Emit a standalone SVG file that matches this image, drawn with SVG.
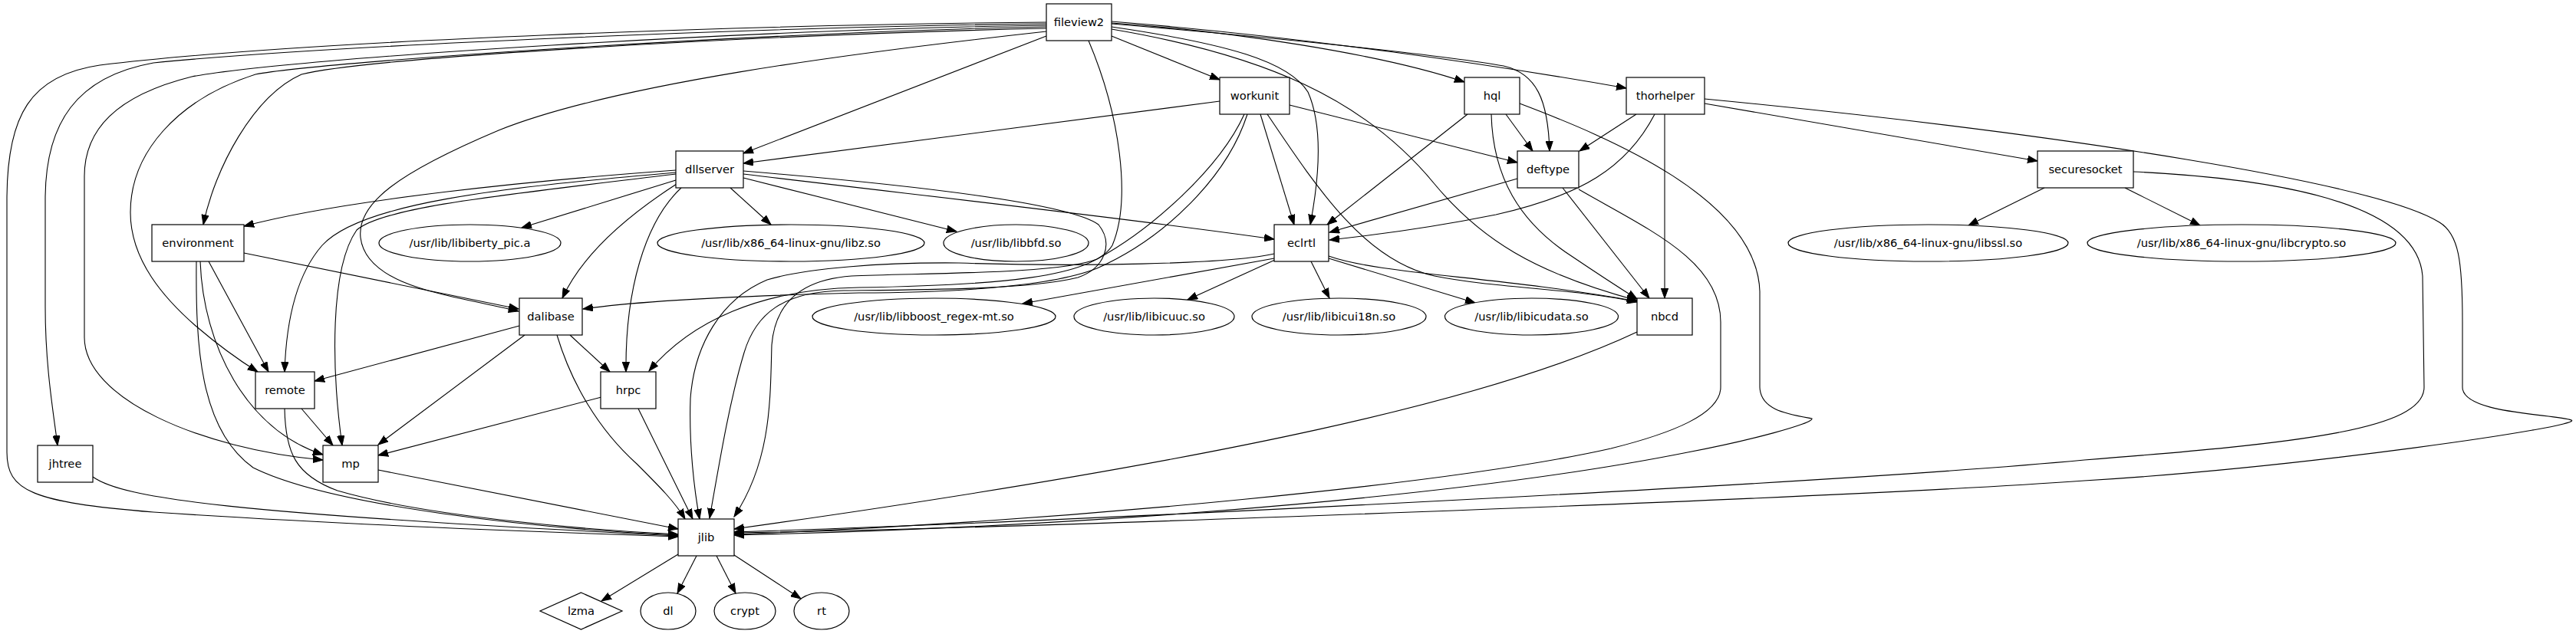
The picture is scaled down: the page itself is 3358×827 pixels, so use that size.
<svg xmlns="http://www.w3.org/2000/svg" width="3358" height="827" viewBox="0 0 3358 827">
<defs>
<style>
.n rect,.n ellipse,.n polygon{fill:#fff;stroke:#000;stroke-width:1.2}
text{font-family:"DejaVu Sans",Verdana,sans-serif;font-size:14.67px;text-anchor:middle;fill:#000}
#edges path{fill:none;stroke:#000;stroke-width:1.1;marker-end:url(#a)}
</style>
<marker id="a" markerUnits="userSpaceOnUse" markerWidth="14" markerHeight="10" refX="13" refY="5" orient="auto" viewBox="0 0 14 10"><path d="M0,0.3 L13,5 L0,9.7 z" fill="#000" stroke="#000" stroke-width="1"/></marker>
</defs>
<rect width="3358" height="827" fill="#fff"/>
<g id="edges">
<path d="M1364,29 C1000,32 400,52 130,85 C40,98 9,150 9,260 L9,590 C9,640 40,655 200,668 C500,688 800,697 884,700"/>
<path d="M1364,31 C1000,35 420,60 200,82 C100,100 59,160 59,260 L59,400 C59,480 70,540 75,581"/>
<path d="M1364,33 C1000,38 380,75 250,100 C150,125 110,170 110,230 L110,440 C110,520 260,585 421,600"/>
<path d="M1364,35 C1000,42 420,80 333,97 C230,130 170,200 170,277 C170,340 215,390 255,425 C290,455 315,472 336,485"/>
<path d="M1364,37 C1000,45 480,75 393,97 C330,125 280,220 265,293"/>
<path d="M1364,41 C1100,70 800,110 650,170 C520,225 465,265 470,310 C478,375 590,385 676,406"/>
<path d="M1364,47 L969,200"/>
<path d="M1449,47 L1590,104"/>
<path d="M1449,30 C1600,40 1800,70 1909,107"/>
<path d="M1449,28 C1700,48 1950,85 2120,115"/>
<path d="M1449,31 C1700,52 1900,75 1960,86 C2003,96 2018,130 2020,197"/>
<path d="M1449,35 C1600,57 1680,80 1705,120 C1725,165 1720,230 1708,293"/>
<path d="M1449,38 C1650,72 1780,130 1870,240 C1930,312 2000,356 2134,392"/>
<path d="M1419,53 C1460,150 1475,260 1450,320 C1425,362 1300,372 1120,375 C990,377 900,420 846,484"/>
<path d="M881,222 C700,235 450,260 318,295"/>
<path d="M881,225 C650,245 470,265 420,320 C385,360 373,420 371,485"/>
<path d="M881,227 C650,255 500,270 465,300 C430,350 432,480 446,581"/>
<path d="M881,235 L680,297"/>
<path d="M882,240 C820,280 760,330 733,389"/>
<path d="M888,245 C840,290 815,380 816,485"/>
<path d="M952,245 L1005,293"/>
<path d="M969,232 L1247,302"/>
<path d="M969,227 C1200,255 1450,282 1661,312"/>
<path d="M969,223 C1150,238 1390,262 1432,293 C1452,318 1440,350 1405,362 C1340,378 1200,378 1100,379 C1020,380 985,410 970,460 C952,520 940,590 925,676"/>
<path d="M318,330 L676,403"/>
<path d="M272,341 L350,485"/>
<path d="M261,341 C265,450 320,560 421,593"/>
<path d="M256,341 C255,450 260,560 330,610 C430,660 700,690 884,698"/>
<path d="M677,425 L410,497"/>
<path d="M684,437 L493,580"/>
<path d="M743,437 L795,485"/>
<path d="M726,437 C745,500 780,560 830,605 C860,635 880,655 893,677"/>
<path d="M393,533 L434,581"/>
<path d="M371,533 C372,590 385,620 440,640 C560,675 780,692 884,697"/>
<path d="M784,518 L493,594"/>
<path d="M832,533 C850,570 880,630 903,677"/>
<path d="M493,613 L884,690"/>
<path d="M121,622 C160,650 300,670 884,699"/>
<path d="M884,723 L784,784"/>
<path d="M908,725 L883,774"/>
<path d="M934,725 L959,774"/>
<path d="M957,724 L1044,781"/>
<path d="M2134,433 C1950,520 1600,600 957,690"/>
<path d="M1590,132 L969,213"/>
<path d="M1681,137 L1978,212"/>
<path d="M1643,149 L1687,293"/>
<path d="M1652,149 C1720,250 1780,340 1870,360 C1950,376 2050,376 2134,394"/>
<path d="M1622,149 C1590,220 1500,300 1430,338 C1380,358 1200,356 1110,360 C1040,365 1010,400 1006,450 C1004,520 1006,600 957,674"/>
<path d="M1626,149 C1600,230 1520,310 1430,350 C1360,378 1200,382 1120,382 C1000,385 850,390 760,403"/>
<path d="M1963,149 L1998,197"/>
<path d="M1913,149 L1730,293"/>
<path d="M1944,149 C1946,230 1980,290 2050,335 C2090,362 2115,378 2134,390"/>
<path d="M1981,135 C2100,180 2290,260 2294,380 L2294,505 C2295,535 2330,540 2362,546 C2365,552 2280,575 2200,590 C1950,640 1500,685 957,698"/>
<path d="M1978,233 L1733,303"/>
<path d="M2037,245 L2150,389"/>
<path d="M2058,247 C2150,300 2243,340 2243,420 L2243,505 C2243,540 2180,565 2100,585 C1900,630 1400,680 957,697"/>
<path d="M2133,149 L2059,197"/>
<path d="M2157,149 C2120,220 2060,255 1950,280 C1850,300 1780,308 1733,313"/>
<path d="M2170,149 L2170,389"/>
<path d="M2222,135 L2656,210"/>
<path d="M2222,129 C2700,175 3100,240 3180,290 C3205,305 3210,340 3210,420 L3210,505 C3210,540 3330,540 3352,548 C3370,556 3000,610 2717,627 C2400,650 1300,690 957,695"/>
<path d="M2665,245 L2566,294"/>
<path d="M2770,245 L2868,294"/>
<path d="M2781,224 C2950,232 3150,260 3158,360 L3160,505 C3160,560 3000,578 2717,600 C2400,630 1400,680 957,694"/>
<path d="M1661,337 L1333,396"/>
<path d="M1662,339 L1548,391"/>
<path d="M1709,341 L1733,389"/>
<path d="M1732,337 L1923,395"/>
<path d="M1732,334 C1800,358 1950,360 2134,393"/>
<path d="M1661,331 C1600,345 1400,348 1250,343 C1150,342 1050,350 1000,365 C940,390 905,450 900,520 C898,580 905,640 912,677"/>
</g>
<g id="fileview2" class="n"><rect x="1364" y="5" width="85" height="48"/><text x="1406.5" y="34">fileview2</text></g>
<g id="workunit" class="n"><rect x="1590" y="101" width="91" height="48"/><text x="1635.5" y="130">workunit</text></g>
<g id="hql" class="n"><rect x="1909" y="101" width="72" height="48"/><text x="1945" y="130">hql</text></g>
<g id="thorhelper" class="n"><rect x="2120" y="101" width="102" height="48"/><text x="2171" y="130">thorhelper</text></g>
<g id="dllserver" class="n"><rect x="881" y="197" width="88" height="48"/><text x="925" y="226">dllserver</text></g>
<g id="deftype" class="n"><rect x="1978" y="197" width="80" height="48"/><text x="2018" y="226">deftype</text></g>
<g id="securesocket" class="n"><rect x="2656" y="197" width="125" height="48"/><text x="2718.5" y="226">securesocket</text></g>
<g id="environment" class="n"><rect x="198" y="293" width="120" height="48"/><text x="258" y="322">environment</text></g>
<g id="libiberty" class="n"><ellipse cx="612.5" cy="317" rx="118.5" ry="24"/><text x="612.5" y="322">/usr/lib/libiberty_pic.a</text></g>
<g id="libz" class="n"><ellipse cx="1031" cy="317" rx="174" ry="24"/><text x="1031" y="322">/usr/lib/x86_64-linux-gnu/libz.so</text></g>
<g id="libbfd" class="n"><ellipse cx="1324.5" cy="317" rx="94.5" ry="24"/><text x="1324.5" y="322">/usr/lib/libbfd.so</text></g>
<g id="eclrtl" class="n"><rect x="1661" y="293" width="71" height="48"/><text x="1696.5" y="322">eclrtl</text></g>
<g id="libssl" class="n"><ellipse cx="2513.5" cy="317" rx="182.5" ry="24"/><text x="2513.5" y="322">/usr/lib/x86_64-linux-gnu/libssl.so</text></g>
<g id="libcrypto" class="n"><ellipse cx="2922" cy="317" rx="201" ry="24"/><text x="2922" y="322">/usr/lib/x86_64-linux-gnu/libcrypto.so</text></g>
<g id="dalibase" class="n"><rect x="677" y="389" width="82" height="48"/><text x="718" y="418">dalibase</text></g>
<g id="libboost" class="n"><ellipse cx="1217.5" cy="413" rx="158.5" ry="24"/><text x="1217.5" y="418">/usr/lib/libboost_regex-mt.so</text></g>
<g id="libicuuc" class="n"><ellipse cx="1504.5" cy="413" rx="104.5" ry="24"/><text x="1504.5" y="418">/usr/lib/libicuuc.so</text></g>
<g id="libicui18n" class="n"><ellipse cx="1745.5" cy="413" rx="113.5" ry="24"/><text x="1745.5" y="418">/usr/lib/libicui18n.so</text></g>
<g id="libicudata" class="n"><ellipse cx="1996.5" cy="413" rx="113" ry="24"/><text x="1996.5" y="418">/usr/lib/libicudata.so</text></g>
<g id="nbcd" class="n"><rect x="2134" y="389" width="72" height="48"/><text x="2170" y="418">nbcd</text></g>
<g id="remote" class="n"><rect x="333" y="485" width="77" height="48"/><text x="371.5" y="514">remote</text></g>
<g id="hrpc" class="n"><rect x="783" y="485" width="72" height="48"/><text x="819" y="514">hrpc</text></g>
<g id="jhtree" class="n"><rect x="49" y="581" width="72" height="48"/><text x="85" y="610">jhtree</text></g>
<g id="mp" class="n"><rect x="421" y="581" width="72" height="48"/><text x="457" y="610">mp</text></g>
<g id="jlib" class="n"><rect x="884" y="677" width="73" height="48"/><text x="920.5" y="706">jlib</text></g>
<g id="lzma" class="n"><polygon points="757.5,773 811,797 757.5,821 704,797"/><text x="757.5" y="802">lzma</text></g>
<g id="dl" class="n"><ellipse cx="871" cy="797" rx="36" ry="24"/><text x="871" y="802">dl</text></g>
<g id="crypt" class="n"><ellipse cx="971" cy="797" rx="40" ry="24"/><text x="971" y="802">crypt</text></g>
<g id="rt" class="n"><ellipse cx="1071" cy="797" rx="36" ry="24"/><text x="1071" y="802">rt</text></g>
</svg>
